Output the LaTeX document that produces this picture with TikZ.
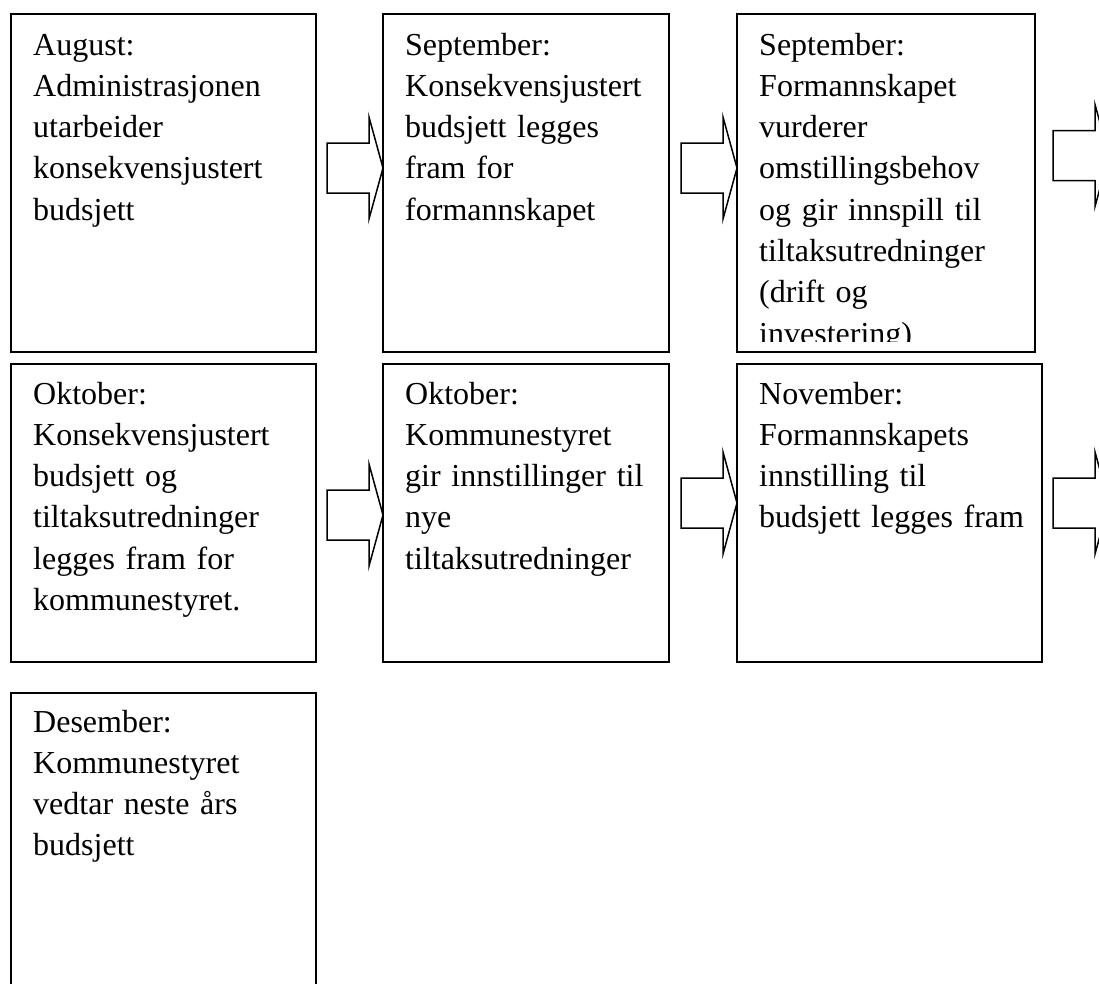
\documentclass[tikz,border=0pt]{standalone}
\usepackage{fontspec}
\setmainfont{Liberation Serif}
\usetikzlibrary{calc}
\tikzset{
  box/.style={draw, line width=1.6pt, rectangle, anchor=north west, inner sep=0pt, outer sep=0pt},
  boxtext/.style={anchor=base west, inner sep=0pt, text width=320pt, align=left,
    font=\fontsize{32}{41.3}\selectfont},
  arrowline/.style={draw, line width=1.5pt, line join=miter, fill=white},
  barrow/.pic={\path[arrowline] (0,0) -- (-14,-51) -- (-14,-25) -- (-56,-25) -- (-56,25) -- (-14,25) -- (-14,51) -- cycle;}
}
\begin{document}
\begin{tikzpicture}[x=1pt,y=-1pt]
\clip (0,0) rectangle (1099,983);
\fill[white] (0,0) rectangle (1099,983);
% boxes
\node[box, minimum width=305pt, minimum height=338pt] (b1) at (11,14) {};
\node[box, minimum width=286pt, minimum height=338pt] (b2) at (383,14) {};
\node[box, minimum width=298pt, minimum height=338pt] (b3) at (737,14) {};
\node[box, minimum width=305pt, minimum height=298pt] (b4) at (11,364) {};
\node[box, minimum width=286pt, minimum height=298pt] (b5) at (383,364) {};
\node[box, minimum width=305pt, minimum height=298pt] (b6) at (737,364) {};
\node[box, minimum width=305pt, minimum height=320pt] (b7) at (11,693) {};
% texts
\node[boxtext] (t1) at ($(b1.north west)+(22,41)$) {August:\\Administrasjonen\\utarbeider\\konsekvensjustert\\budsjett};
\node[boxtext] (t2) at ($(b2.north west)+(22,41)$) {September:\\Konsekvensjustert\\budsjett legges\\fram for\\formannskapet};
\begin{scope}
\clip (737,14) rectangle (1035,341);
\node[boxtext] (t3) at ($(b3.north west)+(22,41)$) {September:\\Formannskapet\\vurderer\\omstillingsbehov\\og gir innspill til\\tiltaksutredninger\\(drift og\\investering)};
\end{scope}
\node[boxtext] (t4) at ($(b4.north west)+(22,40)$) {Oktober:\\Konsekvensjustert\\budsjett og\\tiltaksutredninger\\legges fram for\\kommunestyret.};
\node[boxtext] (t5) at ($(b5.north west)+(22,40)$) {Oktober:\\Kommunestyret\\gir innstillinger til\\nye\\tiltaksutredninger};
\node[boxtext] (t6) at ($(b6.north west)+(22,40)$) {November:\\Formannskapets\\innstilling til\\budsjett legges fram};
\node[boxtext] (t7) at ($(b7.north west)+(22,39)$) {Desember:\\Kommunestyret\\vedtar neste års\\budsjett};
% arrows
\coordinate (a1) at ($(b2.north west)+(0,154)$);
\coordinate (a2) at ($(b3.north west)+(0,154)$);
\coordinate (a3) at ($(b3.north east)+(74,141.5)$);
\coordinate (a4) at ($(b5.north west)+(0,151)$);
\coordinate (a5) at ($(b6.north west)+(0,139)$);
\coordinate (a6) at ($(b6.north east)+(67,139)$);
\pic at (a1) {barrow};
\pic at (a2) {barrow};
\pic at (a3) {barrow};
\pic at (a4) {barrow};
\pic at (a5) {barrow};
\pic at (a6) {barrow};
\end{tikzpicture}
\end{document}
